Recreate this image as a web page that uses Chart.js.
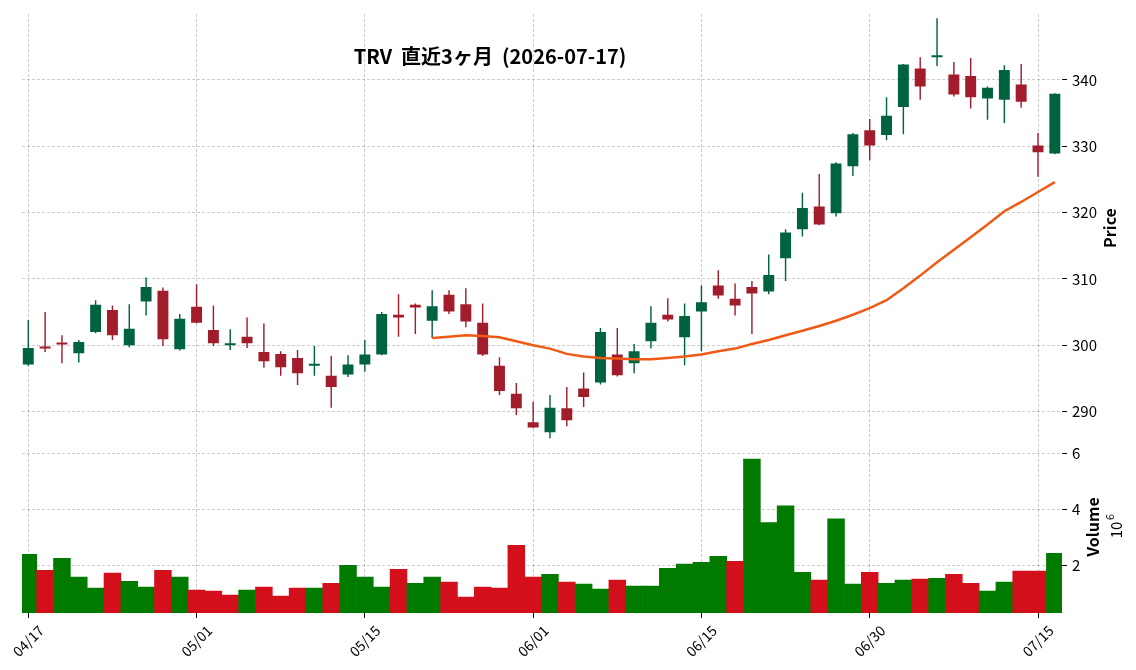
<!DOCTYPE html>
<html>
<head>
<meta charset="utf-8">
<script src="https://cdn.jsdelivr.net/npm/chart.js@4.4.1/dist/chart.umd.min.js"></script>
<style>
  html, body { margin: 0; padding: 0; background: #fff; }
</style>
</head>
<body>
<canvas id="chart" width="1136" height="670"></canvas>
<script>
// trading days 04/17 .. 07/16
const dates = [
  '04/17', '04/20', '04/21', '04/22', '04/23', '04/24', '04/27', '04/28', '04/29', '04/30',
  '05/01', '05/04', '05/05', '05/06', '05/07', '05/08', '05/11', '05/12', '05/13', '05/14',
  '05/15', '05/18', '05/19', '05/20', '05/21', '05/22', '05/26', '05/27', '05/28', '05/29',
  '06/01', '06/02', '06/03', '06/04', '06/05', '06/08', '06/09', '06/10', '06/11', '06/12',
  '06/15', '06/16', '06/17', '06/18', '06/22', '06/23', '06/24', '06/25', '06/26', '06/29',
  '06/30', '07/01', '07/02', '07/06', '07/07', '07/08', '07/09', '07/10', '07/13', '07/14',
  '07/15', '07/16'
];
const opens = [
  297.1, 299.8, 300.3, 298.8, 302.0, 305.3, 300.0, 306.6, 308.2, 299.4,
  305.8, 302.3, 300.0, 301.3, 299.0, 298.7, 298.1, 296.9, 295.4, 295.6,
  297.1, 298.6, 304.6, 306.1, 303.7, 307.6, 306.2, 303.4, 296.9, 292.7,
  288.4, 286.9, 290.5, 293.5, 294.4, 298.6, 297.3, 300.6, 304.6, 301.2,
  305.1, 309.0, 307.0, 308.8, 308.1, 313.1, 317.5, 320.9, 319.9, 327.0,
  332.4, 331.7, 335.9, 341.7, 343.4, 340.8, 340.6, 337.2, 337.0, 339.3,
  330.1, 328.9
];
const highs = [
  303.8, 305.0, 301.5, 300.8, 306.8, 306.0, 306.2, 310.2, 308.7, 304.7,
  309.2, 306.0, 302.4, 304.2, 303.3, 299.1, 299.3, 299.9, 298.4, 298.5,
  300.8, 305.0, 307.7, 306.3, 308.3, 308.3, 308.6, 306.3, 298.2, 294.3,
  291.5, 292.5, 293.7, 295.9, 302.6, 302.6, 300.2, 305.9, 307.1, 306.3,
  309.0, 311.3, 309.3, 309.7, 313.7, 317.5, 323.0, 325.8, 327.6, 332.0,
  334.1, 337.4, 342.4, 343.4, 349.3, 342.7, 343.3, 339.0, 342.2, 342.4,
  332.0, 338.0
];
const lows = [
  296.9, 299.0, 297.3, 297.4, 301.8, 300.8, 299.7, 304.5, 299.9, 299.2,
  303.3, 299.9, 299.3, 299.6, 296.6, 295.4, 294.0, 295.4, 290.6, 295.2,
  296.0, 298.5, 301.3, 301.7, 301.1, 304.7, 302.7, 298.4, 292.5, 289.5,
  287.5, 286.0, 287.8, 290.7, 294.1, 295.3, 295.8, 299.5, 303.6, 297.0,
  299.1, 307.0, 304.5, 301.7, 307.7, 309.7, 316.4, 318.1, 319.4, 325.5,
  327.9, 330.9, 331.8, 337.0, 342.1, 337.5, 335.7, 334.0, 333.5, 335.8,
  325.4, 328.8
];
const closes = [
  299.6, 299.5, 300.1, 300.5, 306.1, 301.5, 302.5, 308.8, 300.9, 304.0,
  303.4, 300.3, 300.1, 300.3, 297.6, 296.7, 295.8, 297.1, 293.7, 297.1,
  298.6, 304.7, 304.2, 305.7, 305.9, 305.1, 303.6, 298.6, 293.1, 290.5,
  287.6, 290.6, 288.7, 292.2, 302.0, 295.5, 299.1, 303.4, 303.9, 304.4,
  306.5, 307.5, 306.0, 307.8, 310.6, 317.0, 320.7, 318.2, 327.4, 331.8,
  330.1, 334.6, 342.3, 339.0, 343.6, 337.8, 337.4, 338.8, 341.5, 336.7,
  329.1, 337.9
];
// volume in millions (axis shows x10^6)
const volumes = [
  2.40, 1.83, 2.26, 1.59, 1.20, 1.73, 1.44, 1.23, 1.83, 1.59,
  1.13, 1.09, 0.95, 1.13, 1.23, 0.91, 1.20, 1.20, 1.37, 2.01,
  1.59, 1.23, 1.87, 1.37, 1.59, 1.41, 0.88, 1.23, 1.20, 2.72,
  1.59, 1.69, 1.41, 1.34, 1.16, 1.48, 1.27, 1.27, 1.90, 2.05,
  2.12, 2.33, 2.15, 5.80, 3.53, 4.13, 1.76, 1.48, 3.67, 1.34,
  1.76, 1.37, 1.48, 1.52, 1.55, 1.69, 1.37, 1.09, 1.41, 1.80,
  1.80, 2.44
];
// 25 day moving average
const ma25 = [
  null, null, null, null, null, null, null, null, null, null,
  null, null, null, null, null, null, null, null, null, null,
  null, null, null, null, 301.1, 301.3, 301.5, 301.4, 301.2, 300.6,
  300.0, 299.5, 298.7, 298.3, 298.1, 298.0, 297.9, 297.9, 298.1, 298.3,
  298.6, 299.1, 299.5, 300.2, 300.8, 301.5, 302.2, 302.9, 303.7, 304.6,
  305.6, 306.8, 308.6, 310.5, 312.5, 314.4, 316.3, 318.2, 320.2, 321.6,
  323.1, 324.6
];
const tickIdx = [0, 10, 20, 30, 40, 50, 60];
const priceTicks = [290, 300, 310, 320, 330, 340];
const volTicks = [2, 4, 6];
const titleText = 'TRV  直近3ヶ月  (2026-07-17)';

const FONT = '"Noto Sans CJK JP", "Noto Sans", sans-serif';
const upCandle = '#006340';
const downCandle = '#a11d2b';
const upVol = '#007b00';
const downVol = '#d30f1c';
const gridColor = 'rgba(0,0,0,0.25)';
const priceMin = 285.4, priceMax = 349.93;
const volMin = 0.31, volMax = 6.40;

const candleColor = i => closes[i] >= opens[i] ? upCandle : downCandle;
const volColor = i => (i === 0 || closes[i] >= closes[i - 1]) ? upVol : downVol;

const idx = dates.map((d, i) => i);

const gridOpts = {
  color: gridColor,
  lineWidth: 0.8,
  offset: false,
  tickColor: '#000',
  tickLength: 5,
  tickWidth: 1,
  tickBorderDash: []
};

const textPlugin = {
  id: 'texts',
  afterDraw(chart) {
    const ctx = chart.ctx;
    const xs = chart.scales.x;
    ctx.save();
    ctx.fillStyle = '#000';
    ctx.textAlign = 'center';
    ctx.textBaseline = 'middle';

    ctx.font = 'bold 20px ' + FONT;
    ctx.fillText(titleText, 490, 56);

    // rotated date labels
    ctx.font = '14px ' + FONT;
    tickIdx.forEach(i => {
      ctx.save();
      ctx.translate(xs.getPixelForValue(i), 641);
      ctx.rotate(-Math.PI / 4);
      ctx.fillText(dates[i], 0, 0);
      ctx.restore();
    });

    // axis titles
    const vText = (txt, x, y, font) => {
      ctx.save();
      ctx.translate(x, y);
      ctx.rotate(-Math.PI / 2);
      ctx.font = font;
      ctx.fillText(txt, 0, 0);
      ctx.restore();
    };
    vText('Price', 1110, 228, 'bold 16px ' + FONT);
    vText('Volume', 1093, 527, 'bold 16px ' + FONT);
    vText('10', 1116, 530, '15px ' + FONT);
    vText('6', 1110, 517, '11px ' + FONT);
    ctx.restore();
  }
};

new Chart(document.getElementById('chart'), {
  type: 'bar',
  data: {
    datasets: [
      {
        type: 'line',
        label: 'MA25',
        data: idx.map(i => ({ x: i, y: ma25[i] })),
        yAxisID: 'y',
        borderColor: '#f05a14',
        borderWidth: 2.5,
        pointRadius: 0,
        tension: 0,
        order: 0
      },
      {
        label: 'body',
        data: idx.map(i => ({ x: i, y: [opens[i], closes[i]] })),
        yAxisID: 'y',
        backgroundColor: ctx => candleColor(ctx.dataIndex),
        grouped: false,
        categoryPercentage: 1,
        barPercentage: 0.65,
        minBarLength: 2,
        order: 1
      },
      {
        label: 'wick',
        data: idx.map(i => ({ x: i, y: [lows[i], highs[i]] })),
        yAxisID: 'y',
        backgroundColor: ctx => candleColor(ctx.dataIndex),
        grouped: false,
        categoryPercentage: 1,
        barPercentage: 0.085,
        order: 2
      },
      {
        label: 'Volume',
        data: idx.map(i => ({ x: i, y: volumes[i] })),
        yAxisID: 'yv',
        base: volMin,
        backgroundColor: ctx => volColor(ctx.dataIndex),
        grouped: false,
        categoryPercentage: 1,
        barPercentage: 1,
        order: 3
      }
    ]
  },
  options: {
    responsive: false,
    animation: false,
    devicePixelRatio: 1,
    layout: { padding: { left: 22, top: 10, right: 0, bottom: 0 } },
    plugins: {
      legend: { display: false },
      tooltip: { enabled: false }
    },
    scales: {
      x: {
        type: 'linear',
        offset: false,
        min: -0.374,
        max: 61.426,
        afterBuildTicks: s => { s.ticks = tickIdx.map(v => ({ value: v })); },
        afterFit: s => { s.height = 57; },
        ticks: { display: false },
        grid: gridOpts,
        border: { display: false, dash: [3, 2] }
      },
      y: {
        type: 'linear',
        position: 'right',
        stack: 'panels',
        stackWeight: 431,
        min: priceMin,
        max: priceMax,
        afterBuildTicks: s => { s.ticks = priceTicks.map(v => ({ value: v })); },
        afterFit: s => { s.width = 74; },
        ticks: { color: '#000', padding: 5, font: { family: FONT, size: 15 } },
        grid: gridOpts,
        border: { display: false, dash: [3, 2] }
      },
      yv: {
        type: 'linear',
        position: 'right',
        stack: 'panels',
        stackWeight: 172,
        min: volMin,
        max: volMax,
        afterBuildTicks: s => { s.ticks = volTicks.map(v => ({ value: v })); },
        afterFit: s => { s.width = 74; },
        ticks: { color: '#000', padding: 5, font: { family: FONT, size: 15 } },
        grid: gridOpts,
        border: { display: false, dash: [3, 2] }
      }
    }
  },
  plugins: [textPlugin]
});
</script>
</body>
</html>
